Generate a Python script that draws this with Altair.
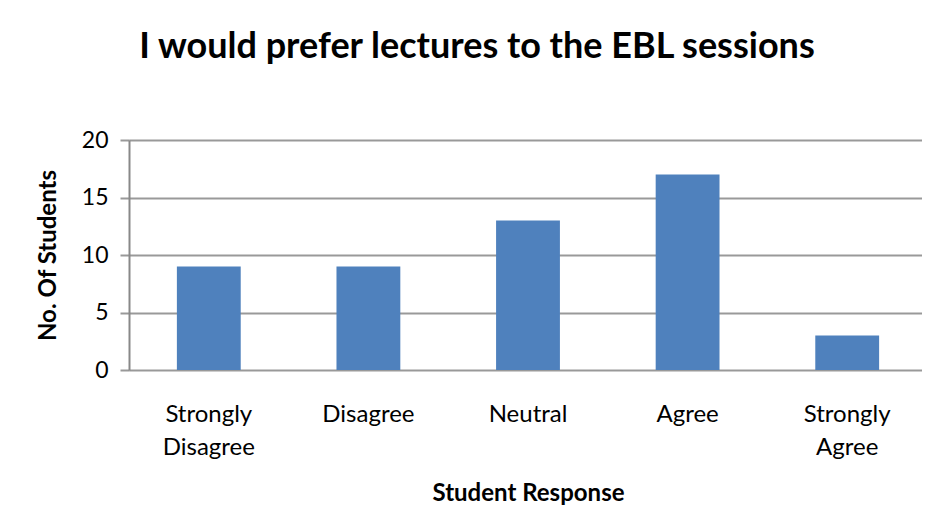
import altair as alt
import pandas as pd

categories = ["Strongly Disagree", "Disagree", "Neutral", "Agree", "Strongly Agree"]
students = [9, 9, 13, 17, 3]
y_ticks = [0, 5, 10, 15, 20]

df = pd.DataFrame({"response": categories, "count": students})

chart = alt.Chart(df).mark_bar(color="#4F81BD").encode(
    x=alt.X(
        "response:N",
        sort=categories,
        scale=alt.Scale(paddingInner=0.6, paddingOuter=0.3),
        axis=alt.Axis(
            title="Student Response",
            labelAngle=0,
            labelExpr="split(datum.label, ' ')",
            labelLineHeight=33,
            labelFontSize=24,
            labelFont="Lato",
            labelColor="#000000",
            labelPadding=32,
            ticks=False,
            domain=False,
            titleFont="Lato",
            titleFontSize=24,
            titleFontWeight="bold",
            titleColor="#000000",
            titlePadding=22,
        ),
    ),
    y=alt.Y(
        "count:Q",
        scale=alt.Scale(domain=[0, 20], nice=False),
        axis=alt.Axis(
            title="No. Of Students",
            values=y_ticks,
            tickSize=9,
            tickColor="#999999",
            tickWidth=2,
            grid=True,
            gridColor="#999999",
            gridWidth=2,
            domainColor="#888888",
            domainWidth=2,
            labelFontSize=23,
            labelFont="Lato",
            labelColor="#000000",
            labelPadding=12,
            titleFont="Lato",
            titleFontSize=24,
            titleFontWeight="bold",
            titleColor="#000000",
            titlePadding=21,
        ),
    ),
).properties(
    width=798,
    height=230,
    autosize=alt.AutoSizeParams(type="none"),
    padding={"left": 121, "top": 132, "right": -5, "bottom": 145},
    title=alt.TitleParams(
        "I would prefer lectures to the EBL sessions",
        font="Lato",
        fontSize=36,
        fontWeight="bold",
        color="#000000",
        anchor="middle",
        frame="group",
        dx=-51,
        offset=63,
    ),
).configure_view(
    stroke=None
).configure(background="white")

chart.save("out.html", embed_options={"renderer": "svg", "actions": False})
